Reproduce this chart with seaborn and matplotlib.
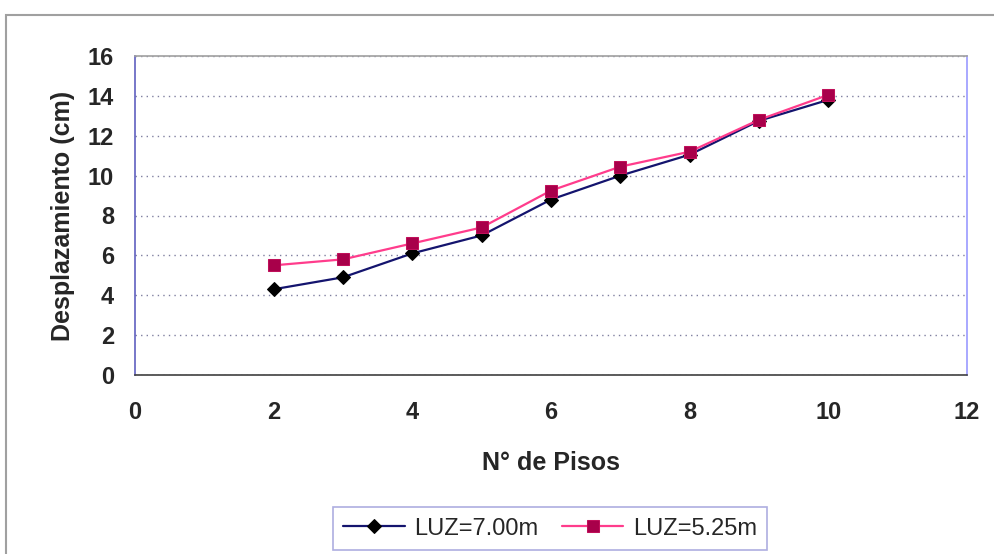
import matplotlib
matplotlib.use("Agg")
import matplotlib.pyplot as plt
from matplotlib.patches import Rectangle
import seaborn as sns
import pandas as pd

# Storey count and lateral displacement for each bay length
pisos_700 = [2, 3, 4, 5, 6, 7, 8, 9, 10]
desp_700 = [4.3, 4.9, 6.1, 7.0, 8.8, 10.0, 11.05, 12.75, 13.8]
pisos_525 = [2, 3, 4, 5, 6, 7, 8, 9, 10]
desp_525 = [5.5, 5.8, 6.6, 7.4, 9.25, 10.45, 11.2, 12.8, 14.05]
series_names = ["LUZ=7.00m", "LUZ=5.25m"]
x_ticks = [0, 2, 4, 6, 8, 10, 12]
y_ticks = [0, 2, 4, 6, 8, 10, 12, 14, 16]

df = pd.concat([
    pd.DataFrame({"pisos": pisos_700, "desp": desp_700, "serie": series_names[0]}),
    pd.DataFrame({"pisos": pisos_525, "desp": desp_525, "serie": series_names[1]}),
])

sns.set_style("white")
plt.rcParams["font.family"] = ["Liberation Sans", "DejaVu Sans"]

fig = plt.figure(figsize=(9.95, 5.54), dpi=100)
ax = fig.add_axes([135 / 995, 1 - 375 / 554, 832 / 995, 319 / 554])

styles = {
    series_names[0]: dict(color="#14146e", marker="D", markersize=7,
                          markerfacecolor="black", markeredgecolor="black"),
    series_names[1]: dict(color="#ff3c8c", marker="s", markersize=9,
                          markerfacecolor="#a8004a", markeredgecolor="#c0105a"),
}
for name in series_names:
    sub = df[df["serie"] == name]
    sns.lineplot(data=sub, x="pisos", y="desp", ax=ax, label=name,
                 linewidth=1.6, **styles[name])

ax.set_xlim(0, 12)
ax.set_ylim(0, 16)
ax.set_xticks(x_ticks)
ax.set_yticks(y_ticks)
ax.yaxis.grid(True, linestyle=(0, (1, 3)), color="#7f7f9f", linewidth=1.0)
ax.xaxis.grid(False)

for side in ["top", "right"]:
    ax.spines[side].set_visible(True)
ax.spines["top"].set_color("#a0a0a0")
ax.spines["right"].set_color("#9a9aff")
ax.spines["left"].set_color("#6060c0")
ax.spines["bottom"].set_color("#404040")
for s in ax.spines.values():
    s.set_linewidth(1.2)

ax.tick_params(axis="both", which="major", direction="out", length=5,
               width=1, color="#505050", labelsize=17)
ax.tick_params(axis="y", pad=10)
ax.tick_params(axis="x", pad=14)
for lab in ax.get_xticklabels() + ax.get_yticklabels():
    lab.set_fontweight("bold")

ax.set_xlabel("N° de Pisos", fontsize=18, fontweight="bold", labelpad=19)
ax.set_ylabel("Desplazamiento (cm)", fontsize=18, fontweight="bold", labelpad=9)

ax.get_legend().remove()
handles, labels = ax.get_legend_handles_labels()
leg = fig.legend(handles, labels, loc="upper center", ncol=2,
                 bbox_to_anchor=(550 / 995, 1 - 507 / 554),
                 fontsize=17, frameon=True, fancybox=False,
                 handlelength=2.6, handletextpad=0.4, columnspacing=1.0,
                 borderpad=0.45, borderaxespad=0)
leg.get_frame().set_edgecolor("#9a9ad8")
leg.get_frame().set_linewidth(1.2)

# Outer chart frame
fig.patches.append(Rectangle((6 / 995, -0.05), 1.2, 1 - 15 / 554 + 0.05,
                             transform=fig.transFigure, fill=False,
                             edgecolor="#a0a0a0", linewidth=1.5))

fig.savefig("out.png", dpi=100)
